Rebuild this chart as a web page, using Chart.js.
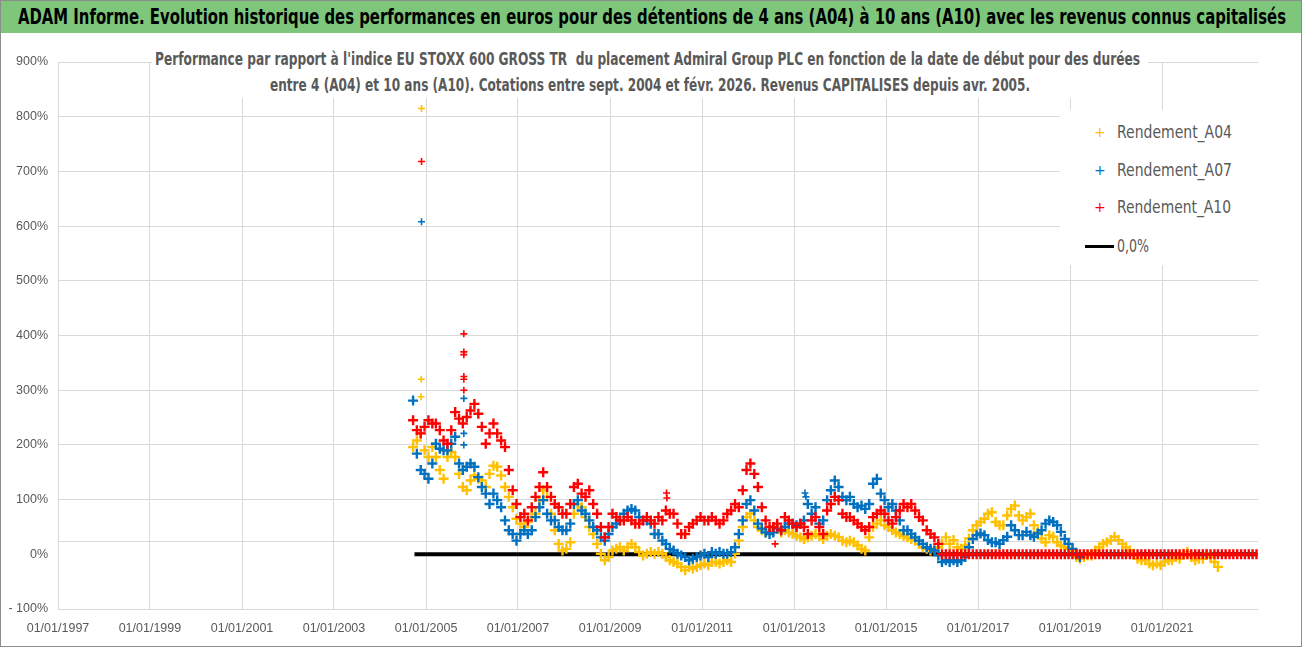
<!DOCTYPE html>
<html lang="fr">
<head>
<meta charset="utf-8">
<title>ADAM Informe - Admiral Group PLC</title>
<script src="https://cdn.jsdelivr.net/npm/chart.js@4.4.1/dist/chart.umd.min.js"></script>
<style>
  html, body { margin: 0; padding: 0; background: #fff; }
  body { width: 1302px; height: 647px; position: relative; overflow: hidden;
         font-family: 'Liberation Sans Narrow', 'DejaVu Sans Condensed', 'Noto Sans', sans-serif; }
  #frame { position: absolute; left: 0; top: 0; width: 1300px; height: 645px; border: 1px solid #8c8c8c; }
  #banner { position: absolute; left: 1px; top: 1px; width: 1300px; height: 32px; background: #7dc67b; }
  .fit { position: absolute; white-space: nowrap; transform-origin: left top; }
  #banner .fit { left: 17px; top: 4px; font-weight: bold; font-size: 21px; color: #000; }
  #wrap { position: absolute; left: 0; top: 34px; width: 1302px; height: 613px; }
  #subtitle { position: absolute; left: 152px; top: 40px; width: 996px; height: 58px; background: #fff; }
  #subtitle .fit { font-weight: bold; font-size: 17px; color: #595959; }
  #legend { position: absolute; left: 1060px; top: 110px; width: 198px; height: 155px; background: #fff; }
  .item { position: absolute; left: 0; height: 24px; width: 198px; }
  .item .mk { position: absolute; left: 34px; top: 0; font-size: 14px; line-height: 24px; font-family: 'DejaVu Sans', sans-serif; }
  .item .fit { left: 57px; top: 0; font-size: 17px; line-height: 24px; color: #595959; }
  .item .bar { position: absolute; left: 25px; top: 11px; width: 29px; height: 3px; background: #000; }
</style>
</head>
<body>
<div id="frame"></div>
<div id="banner"><span class="fit" data-w="1268">ADAM Informe. Evolution historique des performances en euros pour des détentions de 4 ans (A04) à 10 ans (A10) avec les revenus connus capitalisés</span></div>
<div id="wrap"><canvas id="perfChart" width="1302" height="613"></canvas></div>
<div id="subtitle">
  <span class="fit" data-w="985" style="left:3px;top:9px">Performance par rapport à l'indice EU STOXX 600 GROSS TR&nbsp; du placement Admiral Group PLC en fonction de la date de début pour des durées</span>
  <span class="fit" data-w="760" style="left:118px;top:35px">entre 4 (A04) et 10 ans (A10). Cotations entre sept. 2004 et févr. 2026. Revenus CAPITALISES depuis avr. 2005.</span>
</div>
<div id="legend">
  <div class="item" style="top:10px"><span class="mk" style="color:#FFC000">+</span><span class="fit" data-w="115">Rendement_A04</span></div>
  <div class="item" style="top:48px"><span class="mk" style="color:#0070C0">+</span><span class="fit" data-w="115">Rendement_A07</span></div>
  <div class="item" style="top:85px"><span class="mk" style="color:#FF0000">+</span><span class="fit" data-w="114">Rendement_A10</span></div>
  <div class="item" style="top:124px"><span class="bar"></span><span class="fit" data-w="32">0,0%</span></div>
</div>
<script>
// x ticks of the date axis
const tickLabels = ["01/01/1997", "01/01/1999", "01/01/2001", "01/01/2003", "01/01/2005", "01/01/2007",
    "01/01/2009", "01/01/2011", "01/01/2013", "01/01/2015", "01/01/2017", "01/01/2019", "01/01/2021"];
const yTicks = [-100, 0, 100, 200, 300, 400, 500, 600, 700, 800, 900];
const axisCrossValue = 25;

// monthly readings (%), first month = sept. 2004
const firstMonth = "2004-09";
const a04Values = [
    196, 208, 221, 190, 178, 196, 178, 154, 138, 178,
    187, 178, 147, 123, 117, 135, 144, 138, 135, 123,
    147, 162, 160, 144, 123, 105, 86, 65, 56, 50,
    59, 68, 74, 99, 117, 105, 74, 44, 19, 7,
    10, 22, 74, 92, 86, 68, 50, 37, 19, 1,
    -11, -5, 7, 10, 13, 7, 13, 19, 13, 4,
    -2, 1, 4, 1, 4, 1, -5, -11, -14, -17,
    -23, -29, -23, -26, -23, -20, -17, -20, -14, -14,
    -17, -14, -11, -14, 1, 25, 50, 68, 74, 62,
    50, 44, 40, 44, 50, 47, 40, 44, 40, 37,
    34, 31, 28, 31, 34, 37, 34, 28, 34, 37,
    34, 31, 25, 22, 25, 22, 16, 10, 7, 31,
    50, 56, 62, 53, 50, 44, 40, 37, 34, 31,
    28, 25, 19, 13, 10, 7, 10, 13, 19, 31,
    19, 26, 13, 10, 16, 29, 44, 53, 59, 65,
    74, 77, 59, 53, 53, 71, 83, 89, 71, 62,
    68, 74, 53, 41, 29, 22, 35, 32, 22, 16,
    13, 10, 7, -5, -8, -5, -2, -2, 7, 13,
    19, 22, 26, 32, 26, 19, 13, 7, 1, -8,
    -11, -11, -17, -20, -17, -20, -14, -11, -11, -5,
    -8, 1, 4, -5, -11, -8, -8, 1, -5, -14, -23
];
const a07Values = [
    281, 184, 154, 147, 138, 166, 202, 193, 190, 190,
    202, 215, 166, 154, 160, 166, 160, 141, 123, 111,
    92, 111, 99, 86, 62, 44, 37, 25, 37, 44,
    37, 44, 68, 86, 99, 74, 62, 62, 50, 44,
    44, 56, 92, 99, 80, 74, 62, 50, 44, 31,
    25, 37, 50, 56, 62, 74, 80, 83, 80, 68,
    62, 62, 56, 37, 37, 25, 19, 10, 7, 1,
    -2, -5, -11, -8, -5, -2, 1, -5, 4, 1,
    4, 1, 1, 4, 13, 37, 62, 92, 99, 80,
    56, 47, 40, 37, 40, 47, 44, 50, 56, 56,
    53, 56, 62, 92, 74, 86, 56, 62, 99, 117,
    135, 123, 105, 99, 105, 92, 86, 89, 83, 92,
    129, 138, 111, 99, 86, 92, 80, 62, 44, 44,
    37, 31, 25, 19, 13, 10, 7, -2, -14, -11,
    -14, -11, -14, -11, -5, 13, 28, 35, 38, 35,
    26, 22, 22, 19, 26, 32, 53, 44, 35, 35,
    41, 35, 32, 38, 44, 56, 62, 59, 53, 41,
    28, 19, 10, 1, -5
];
const a10Values = [
    245, 227, 221, 233, 245, 239, 239, 227, 208, 202,
    227, 260, 248, 239, 251, 263, 275, 257, 233, 202,
    221, 239, 221, 208, 196, 154, 117, 92, 68, 74,
    62, 86, 105, 123, 150, 123, 105, 92, 86, 74,
    74, 92, 123, 129, 111, 105, 117, 92, 74, 50,
    31, 50, 74, 68, 62, 62, 68, 62, 56, 56,
    62, 68, 62, 56, 68, 62, 80, 74, 74, 56,
    37, 37, 50, 56, 62, 68, 62, 62, 68, 62,
    56, 62, 74, 80, 92, 86, 117, 154, 166, 147,
    123, 86, 62, 50, 50, 56, 44, 68, 62, 56,
    50, 56, 50, 37, 62, 68, 50, 37, 80, 92,
    105, 99, 74, 68, 68, 62, 56, 50, 44, 50,
    68, 74, 80, 74, 62, 56, 68, 80, 92, 86,
    92, 80, 68, 62, 44, 37, 31, 19,
    // no 10-year result yet: shown as 0 from march 2016
    0, 0, 0, 0, 0, 0, 0, 0, 0, 0, 0, 0, 0, 0, 0, 0, 0, 0, 0, 0,
    0, 0, 0, 0, 0, 0, 0, 0, 0, 0, 0, 0, 0, 0, 0, 0, 0, 0, 0, 0,
    0, 0, 0, 0, 0, 0, 0, 0, 0, 0, 0, 0, 0, 0, 0, 0, 0, 0, 0, 0,
    0, 0, 0, 0, 0, 0, 0, 0, 0, 0, 0, 0, 0, 0, 0, 0, 0, 0, 0, 0,
    0, 0, 0
];

// isolated daily points (spikes)
const a04SpikeDates = ["2004-11-26", "2004-11-24", "2004-11-22"];
const a04SpikeValues = [815, 320, 288];
const a07SpikeDates = ["2004-11-26", "2005-10-28", "2005-10-28", "2005-10-28", "2013-03-28", "2013-04-05"];
const a07SpikeValues = [608, 285, 221, 200, 112, 105];
const a10SpikeDates = ["2004-11-26", "2005-10-28", "2005-10-28", "2005-10-28", "2005-10-28", "2005-10-28", "2005-10-28",
    "2010-03-25", "2010-03-28", "2012-08-03"];
const a10SpikeValues = [718, 403, 370, 365, 325, 320, 300, 112, 103, 19];

const zeroLineDates = ["2004-10-01", "2023-01-20"];
const zeroLineValues = [0, 0];

function dayValue(s) {
    const p = s.split("-").map(Number);
    return Date.UTC(p[0], p[1] - 1, p[2] || 1);
}
function frenchDay(s) {
    const p = s.split("/").map(Number);
    return Date.UTC(p[2], p[1] - 1, p[0]);
}

function buildPoints(values, spikeDates, spikeValues) {
    const [y0, m0] = firstMonth.split("-").map(Number);
    const pts = values.map((v, i) => ({ x: Date.UTC(y0, m0 - 1 + i, 20), y: v }));
    spikeDates.forEach((d, i) => pts.push({ x: dayValue(d), y: spikeValues[i] }));
    return pts;
}

const crossLine = {
    id: "crossLine",
    beforeDatasetsDraw(chart) {
        const { ctx, chartArea, scales } = chart;
        const y = Math.round(scales.y.getPixelForValue(axisCrossValue)) + 0.5;
        ctx.save();
        ctx.strokeStyle = "#d9d9d9";
        ctx.lineWidth = 1;
        ctx.beginPath();
        ctx.moveTo(chartArea.left, y);
        ctx.lineTo(chartArea.right, y);
        ctx.stroke();
        ctx.restore();
    }
};

function markerSet(label, values, spikeDates, spikeValues, color, order) {
    const n = values.length;
    return {
        label: label,
        data: buildPoints(values, spikeDates, spikeValues),
        order: order,
        showLine: false,
        pointStyle: "cross",
        // monthly marks drawn bigger so they merge into a band, lone daily spikes stay small
        pointRadius: (c) => c.dataIndex < n ? 5 : 3.5,
        pointHoverRadius: (c) => c.dataIndex < n ? 5 : 3.5,
        pointBorderWidth: (c) => c.dataIndex < n ? 2.4 : 1.6,
        borderColor: color,
        backgroundColor: color
    };
}

const ctx = document.getElementById("perfChart").getContext("2d");
const tickFont = { family: "'Liberation Sans', Arial, sans-serif", size: 12.5 };

new Chart(ctx, {
    type: "scatter",
    data: {
        datasets: [
            markerSet("Rendement_A04", a04Values, a04SpikeDates, a04SpikeValues, "#FFC000", 3),
            markerSet("Rendement_A07", a07Values, a07SpikeDates, a07SpikeValues, "#0070C0", 2),
            markerSet("Rendement_A10", a10Values, a10SpikeDates, a10SpikeValues, "#FF0000", 1),
            {
                label: "0,0%",
                data: zeroLineDates.map((d, i) => ({ x: dayValue(d), y: zeroLineValues[i] })),
                order: 4,
                showLine: true,
                borderColor: "#000",
                borderWidth: 4,
                pointRadius: 0,
                pointHoverRadius: 0
            }
        ]
    },
    options: {
        responsive: false,
        animation: false,
        layout: { padding: { top: 28, right: 44, left: 0, bottom: 0 } },
        plugins: {
            legend: { display: false },
            tooltip: { enabled: false }
        },
        scales: {
            x: {
                type: "linear",
                min: Date.UTC(1997, 0, 1),
                max: Date.UTC(2023, 1, 1),
                afterFit: (scale) => { scale.height = 38; },
                afterBuildTicks: (scale) => {
                    scale.ticks = tickLabels.map(s => ({ value: frenchDay(s) }));
                },
                border: { display: false },
                grid: { color: "#d9d9d9", drawTicks: false },
                ticks: {
                    autoSkip: false,
                    maxRotation: 0,
                    padding: 12,
                    color: "#595959",
                    font: tickFont,
                    callback: (value, index) => tickLabels[index]
                }
            },
            y: {
                min: -100,
                max: 900,
                afterFit: (scale) => { scale.width = 58; },
                afterBuildTicks: (scale) => {
                    scale.ticks = yTicks.map(v => ({ value: v }));
                },
                border: { display: false },
                grid: {
                    drawTicks: false,
                    color: (c) => (c.tick && c.tick.value === 0) ? "rgba(0,0,0,0)" : "#d9d9d9"
                },
                ticks: {
                    padding: 10,
                    color: "#595959",
                    font: tickFont,
                    callback: (v) => v === -100 ? "- 100%" : v + "%"
                }
            }
        }
    },
    plugins: [crossLine]
});

function fitTexts() {
    document.querySelectorAll(".fit").forEach(el => {
        el.style.transform = "none";
        const w = el.getBoundingClientRect().width;
        const target = Number(el.dataset.w);
        if (w > 0) el.style.transform = "scaleX(" + (target / w) + ")";
    });
}
fitTexts();
if (document.fonts && document.fonts.ready) document.fonts.ready.then(fitTexts);
</script>
</body>
</html>
